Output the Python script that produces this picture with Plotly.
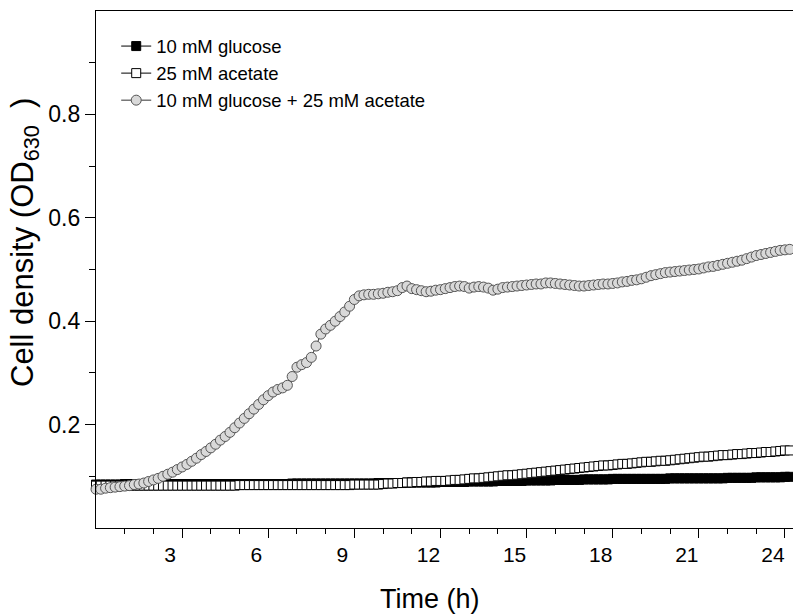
import plotly.graph_objects as go

# sampling grid: one reading every 10 min
time_h = [round(i / 6, 4) for i in range(148)]

glucose = [
    0.084, 0.084, 0.084, 0.084, 0.084, 0.084,
    0.085, 0.085, 0.085, 0.085, 0.085, 0.085,
    0.085, 0.085, 0.085, 0.085, 0.085, 0.085,
    0.085, 0.085, 0.085, 0.085, 0.085, 0.085,
    0.085, 0.085, 0.085, 0.085, 0.085, 0.085,
    0.085, 0.085, 0.085, 0.085, 0.085, 0.085,
    0.085, 0.085, 0.085, 0.085, 0.085, 0.086,
    0.086, 0.086, 0.086, 0.086, 0.086, 0.086,
    0.086, 0.086, 0.086, 0.086, 0.086, 0.086,
    0.086, 0.086, 0.086, 0.086, 0.086, 0.087,
    0.087, 0.087, 0.087, 0.087, 0.087, 0.088,
    0.088, 0.088, 0.088, 0.088, 0.088, 0.088,
    0.089, 0.089, 0.089, 0.089, 0.089, 0.089,
    0.090, 0.090, 0.090, 0.090, 0.090, 0.090,
    0.091, 0.091, 0.091, 0.091, 0.091, 0.091,
    0.092, 0.092, 0.092, 0.092, 0.092, 0.092,
    0.093, 0.093, 0.093, 0.093, 0.093, 0.093,
    0.094, 0.094, 0.094, 0.094, 0.094, 0.094,
    0.095, 0.095, 0.095, 0.095, 0.095, 0.095,
    0.095, 0.095, 0.095, 0.095, 0.095, 0.095,
    0.096, 0.096, 0.096, 0.096, 0.096, 0.096,
    0.096, 0.096, 0.096, 0.096, 0.096, 0.096,
    0.097, 0.097, 0.097, 0.097, 0.097, 0.097,
    0.098, 0.098, 0.098, 0.098, 0.098, 0.098,
    0.099, 0.099, 0.099, 0.099,
]

acetate = [
    0.082, 0.082, 0.082, 0.082, 0.082, 0.082,
    0.082, 0.082, 0.082, 0.082, 0.082, 0.082,
    0.082, 0.082, 0.082, 0.082, 0.082, 0.082,
    0.082, 0.082, 0.082, 0.082, 0.082, 0.082,
    0.082, 0.082, 0.082, 0.082, 0.082, 0.082,
    0.083, 0.083, 0.083, 0.083, 0.083, 0.083,
    0.083, 0.083, 0.083, 0.083, 0.083, 0.083,
    0.083, 0.083, 0.083, 0.083, 0.083, 0.083,
    0.083, 0.083, 0.083, 0.083, 0.083, 0.083,
    0.084, 0.084, 0.084, 0.084, 0.084, 0.084,
    0.085, 0.086, 0.086, 0.087, 0.087, 0.088,
    0.088, 0.089, 0.089, 0.090, 0.090, 0.091,
    0.091, 0.091, 0.092, 0.093, 0.093, 0.094,
    0.095, 0.096, 0.096, 0.097, 0.098, 0.099,
    0.100, 0.101, 0.102, 0.102, 0.103, 0.104,
    0.105, 0.106, 0.107, 0.108, 0.109, 0.110,
    0.111, 0.112, 0.113, 0.114, 0.115, 0.116,
    0.117, 0.118, 0.119, 0.120, 0.121, 0.121,
    0.122, 0.123, 0.124, 0.124, 0.125, 0.126,
    0.127, 0.128, 0.128, 0.129, 0.130, 0.130,
    0.131, 0.132, 0.133, 0.134, 0.135, 0.136,
    0.137, 0.138, 0.138, 0.139, 0.140, 0.141,
    0.141, 0.142, 0.143, 0.143, 0.144, 0.145,
    0.145, 0.146, 0.147, 0.147, 0.148, 0.149,
    0.150, 0.150, 0.151, 0.151,
]

glucose_acetate = [
    0.075, 0.075, 0.077, 0.078, 0.079, 0.080,
    0.081, 0.082, 0.084, 0.085, 0.087, 0.090,
    0.093, 0.096, 0.100, 0.104, 0.108, 0.113,
    0.118, 0.123, 0.129, 0.135, 0.142, 0.148,
    0.155, 0.162, 0.170, 0.177, 0.185, 0.194,
    0.203, 0.212, 0.221, 0.230, 0.239, 0.248,
    0.256, 0.263, 0.268, 0.271, 0.276, 0.293,
    0.311, 0.316, 0.320, 0.330, 0.352, 0.375,
    0.385, 0.392, 0.400, 0.409, 0.418, 0.429,
    0.442, 0.449, 0.451, 0.452, 0.452, 0.453,
    0.454, 0.456, 0.457, 0.459, 0.465, 0.468,
    0.463, 0.461, 0.459, 0.457, 0.458, 0.460,
    0.461, 0.463, 0.465, 0.467, 0.468, 0.467,
    0.464, 0.466, 0.467, 0.466, 0.464, 0.460,
    0.462, 0.465, 0.466, 0.467, 0.468, 0.469,
    0.470, 0.471, 0.472, 0.472, 0.474, 0.474,
    0.473, 0.472, 0.471, 0.470, 0.469, 0.468,
    0.468, 0.469, 0.470, 0.471, 0.472, 0.472,
    0.473, 0.474, 0.476, 0.477, 0.479, 0.480,
    0.482, 0.485, 0.488, 0.490, 0.492, 0.494,
    0.495, 0.496, 0.497, 0.498, 0.499, 0.500,
    0.501, 0.503, 0.505, 0.506, 0.508, 0.510,
    0.512, 0.514, 0.516, 0.518, 0.521, 0.524,
    0.527, 0.529, 0.531, 0.533, 0.535, 0.537,
    0.538, 0.539, 0.540, 0.541,
]

x_major = [3, 6, 9, 12, 15, 18, 21, 24]
x_minor = [1, 2, 4, 5, 7, 8, 10, 11, 13, 14, 16, 17, 19, 20, 22, 23]
y_major = [0.2, 0.4, 0.6, 0.8]
y_minor = [0.1, 0.3, 0.5, 0.7, 0.9]
y_major_text = ["0.2", "0.4", "0.6", "0.8"]

x_title = "Time (h)"
y_title = "Cell density (OD<sub>630</sub>\u00a0\u00a0)"

FONT = "Liberation Sans, Arial, sans-serif"

fig = go.Figure()
fig.add_trace(go.Scatter(
    x=time_h, y=glucose, mode="lines+markers", name="10 mM glucose",
    line=dict(color="black", width=1),
    marker=dict(symbol="square", size=9, color="black",
                line=dict(color="black", width=1)),
    cliponaxis=False,
))
fig.add_trace(go.Scatter(
    x=time_h, y=acetate, mode="lines+markers", name="25 mM acetate",
    line=dict(color="black", width=1),
    marker=dict(symbol="square", size=9, color="white",
                line=dict(color="black", width=1)),
    cliponaxis=False,
))
fig.add_trace(go.Scatter(
    x=time_h, y=glucose_acetate, mode="lines+markers",
    name="10 mM glucose + 25 mM acetate",
    line=dict(color="#333333", width=1),
    marker=dict(symbol="circle", size=10, color="#d9d9d9",
                line=dict(color="#555555", width=1)),
    cliponaxis=False,
))

fig.add_annotation(
    text=x_title, xref="paper", yref="paper", x=0.479, y=-0.138,
    xanchor="center", yanchor="middle", showarrow=False,
    font=dict(family=FONT, size=27, color="black"),
)
fig.add_annotation(
    text=y_title, xref="paper", yref="paper", x=-0.102, y=0.553,
    xanchor="center", yanchor="middle", showarrow=False, textangle=-90,
    font=dict(family=FONT, size=31, color="black"),
)

fig.update_layout(
    width=793, height=616,
    margin=dict(l=96, r=0, t=11, b=88),
    paper_bgcolor="white", plot_bgcolor="white",
    font=dict(family=FONT, color="black"),
    showlegend=True,
    legend=dict(
        x=0.029, y=0.968, xanchor="left", yanchor="top",
        bgcolor="rgba(0,0,0,0)", borderwidth=0,
        font=dict(family=FONT, size=18.5, color="black"),
        tracegroupgap=0,
    ),
    xaxis=dict(
        range=[0, 24.28], showgrid=False, zeroline=False, automargin=False,
        showline=True, linecolor="black", linewidth=1.3, mirror=True,
        ticks="outside", ticklen=9, tickwidth=1.3, tickcolor="black",
        tickvals=x_major, ticktext=[str(v) for v in x_major],
        tickfont=dict(family=FONT, size=21, color="black"),
        ticklabelshift=-12, ticklabelstandoff=-1,
        minor=dict(tickvals=x_minor, ticks="outside", ticklen=5,
                   tickwidth=1.3, tickcolor="black", showgrid=False),
    ),
    yaxis=dict(
        range=[0, 1.0], showgrid=False, zeroline=False, automargin=False,
        showline=True, linecolor="black", linewidth=1.3, mirror=False,
        ticks="outside", ticklen=10, tickwidth=1.3, tickcolor="black",
        tickvals=y_major, ticktext=y_major_text,
        tickfont=dict(family=FONT, size=23, color="black"),
        minor=dict(tickvals=y_minor, ticks="outside", ticklen=6,
                   tickwidth=1.3, tickcolor="black", showgrid=False),
    ),
)

fig.write_html("out.html", config={"displayModeBar": False},
               post_script="document.body.style.margin='0';")
